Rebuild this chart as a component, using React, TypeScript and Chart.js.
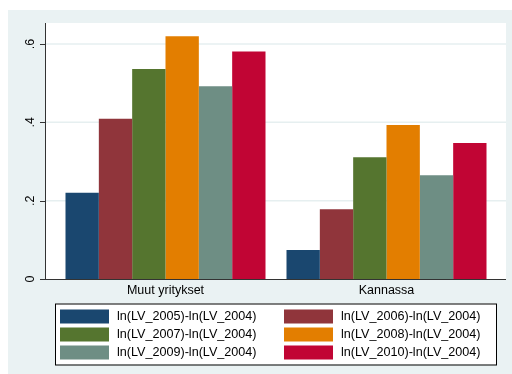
import React, { useEffect, useRef } from "react";
import { Chart, registerables } from "chart.js";

Chart.register(...registerables);

// ---- data ----
const categories = ["Muut yritykset", "Kannassa"];
const seriesLabels = [
  "ln(LV_2005)-ln(LV_2004)",
  "ln(LV_2006)-ln(LV_2004)",
  "ln(LV_2007)-ln(LV_2004)",
  "ln(LV_2008)-ln(LV_2004)",
  "ln(LV_2009)-ln(LV_2004)",
  "ln(LV_2010)-ln(LV_2004)",
];
const seriesColors = ["#1A476F", "#90353B", "#55752F", "#E37E00", "#6E8E84", "#C10534"];
const v2005 = [0.22, 0.074];
const v2006 = [0.409, 0.178];
const v2007 = [0.536, 0.311];
const v2008 = [0.62, 0.393];
const v2009 = [0.492, 0.265];
const v2010 = [0.581, 0.347];
const seriesValues = [v2005, v2006, v2007, v2008, v2009, v2010];
const yTickValues = [0, 0.2, 0.4, 0.6];
const yTickLabels = ["0", ".2", ".4", ".6"];
const Y_MIN = 0;
const Y_MAX = 0.6536;

// ---- style ----
const FONT = '"Liberation Sans", Arial, Helvetica, sans-serif';
const BG = "#EAF2F3";
const GRID = "#E6EFF0";
const AXIS = "#333333";
const FRAME_EXT_L = 10;
const FRAME_EXT_R = 9;

const framePlugin = {
  id: "stataFrame",
  beforeDraw(chart: any) {
    const { ctx, chartArea: a, width, height } = chart;
    const ys = chart.scales.y;
    const L = a.left - FRAME_EXT_L;
    const R = a.right + FRAME_EXT_R;
    ctx.save();
    ctx.fillStyle = BG;
    ctx.fillRect(0, 0, width, height);
    ctx.fillStyle = "#ffffff";
    ctx.fillRect(L, a.top, R - L, a.bottom - a.top);
    ctx.strokeStyle = GRID;
    ctx.lineWidth = 1.5;
    yTickValues.forEach((v) => {
      if (v === 0) return;
      const py = ys.getPixelForValue(v);
      ctx.beginPath();
      ctx.moveTo(L, py);
      ctx.lineTo(R, py);
      ctx.stroke();
    });
    ctx.restore();
  },
  afterDatasetsDraw(chart: any) {
    const { ctx, chartArea: a } = chart;
    const ys = chart.scales.y;
    const L = a.left - FRAME_EXT_L;
    const R = a.right + FRAME_EXT_R;
    ctx.save();
    ctx.strokeStyle = AXIS;
    ctx.lineWidth = 1;
    ctx.beginPath();
    ctx.moveTo(L + 0.5, a.top);
    ctx.lineTo(L + 0.5, a.bottom + 1);
    ctx.moveTo(L, a.bottom + 0.5);
    ctx.lineTo(R, a.bottom + 0.5);
    yTickValues.forEach((v) => {
      const py = Math.round(ys.getPixelForValue(v)) + 0.5;
      ctx.moveTo(L - 5, py);
      ctx.lineTo(L, py);
    });
    ctx.stroke();
    ctx.restore();
  },
  afterDraw(chart: any) {
    const { ctx, chartArea: a } = chart;
    const boxL = a.left;
    const boxR = a.right - 1;
    const boxT = a.bottom + 24.5;
    const boxB = boxT + 61;
    ctx.save();
    ctx.fillStyle = "#ffffff";
    ctx.fillRect(boxL, boxT, boxR - boxL, boxB - boxT);
    ctx.strokeStyle = "#000000";
    ctx.lineWidth = 1;
    ctx.strokeRect(boxL + 0.5, boxT + 0.5, boxR - boxL, boxB - boxT);
    ctx.font = `12.6px ${FONT}`;
    ctx.textBaseline = "middle";
    ctx.textAlign = "left";
    const colX = [boxL + 5, boxL + 229];
    chart.data.datasets.forEach((ds: any, i: number) => {
      const col = i % 2;
      const row = Math.floor(i / 2);
      const sx = colX[col];
      const sy = boxT + 6 + row * 18;
      ctx.fillStyle = ds.backgroundColor;
      ctx.fillRect(sx, sy, 49, 14);
      ctx.fillStyle = "#000000";
      ctx.fillText(ds.label, sx + 57, sy + 7.5);
    });
    ctx.restore();
  },
};

export default function App() {
  const ref = useRef<HTMLCanvasElement | null>(null);
  useEffect(() => {
    if (!ref.current) return;
    const chart = new Chart(ref.current, {
      type: "bar",
      data: {
        labels: categories,
        datasets: seriesLabels.map((label, i) => ({
          label,
          data: seriesValues[i],
          backgroundColor: seriesColors[i],
          borderWidth: 0,
          barPercentage: 1,
          categoryPercentage: 200 / 221,
        })),
      },
      options: {
        animation: false,
        responsive: false,
        devicePixelRatio: 1,
        layout: { padding: { left: 0, right: 15, top: 13, bottom: 0 } },
        plugins: { legend: { display: false }, tooltip: { enabled: false } },
        scales: {
          x: {
            grid: { display: false, drawTicks: false },
            border: { display: false },
            ticks: {
              color: "#000",
              font: { family: FONT, size: 12.5 },
              padding: 4,
            },
            afterFit: (s: any) => {
              s.height = 95;
              s.paddingLeft = 0;
              s.paddingRight = 0;
            },
          },
          y: {
            min: Y_MIN,
            max: Y_MAX,
            bounds: "data",
            grace: 0,
            grid: { display: false, drawTicks: false, tickLength: 0 },
            border: { display: false },
            afterBuildTicks: (s: any) => {
              s.ticks = yTickValues.map((value) => ({ value }));
              s.min = Y_MIN;
              s.max = Y_MAX;
            },
            ticks: {
              color: "#000",
              font: { family: FONT, size: 12.5 },
              minRotation: 90,
              maxRotation: 90,
              crossAlign: "center",
              padding: 19,
              callback: (_v: any, idx: number) => yTickLabels[idx],
            },
            afterFit: (s: any) => {
              s.width = 47;
              s.paddingTop = 0;
              s.paddingBottom = 0;
            },
          },
        },
      },
      plugins: [framePlugin],
    } as any);
    return () => chart.destroy();
  }, []);
  return (
    <div style={{ position: "absolute", left: 8, top: 10, width: 504, height: 364 }}>
      <canvas ref={ref} width={504} height={364} style={{ display: "block" }} />
    </div>
  );
}
